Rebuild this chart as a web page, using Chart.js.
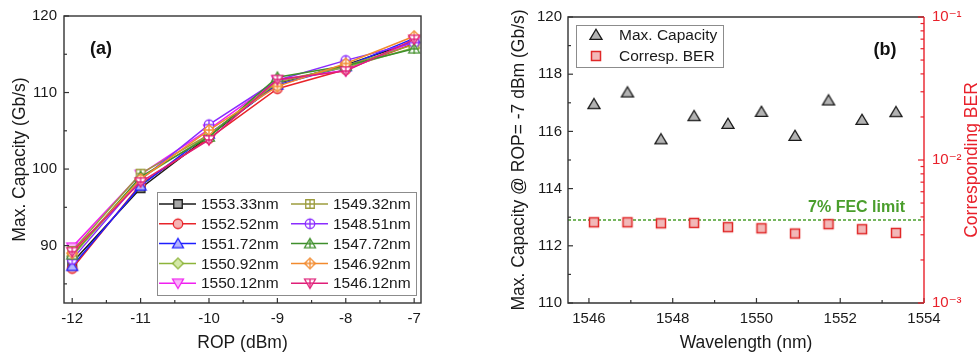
<!DOCTYPE html>
<html><head><meta charset="utf-8">
<script src="https://cdn.jsdelivr.net/npm/chart.js@4.4.0/dist/chart.umd.min.js"></script>
<style>
html,body{margin:0;padding:0;background:#fff;}
#wrap{position:relative;width:980px;height:358px;overflow:hidden;}
.box{position:absolute;top:0;width:490px;height:358px;}
</style></head><body>
<div id="wrap">
<div class="box" style="left:0"><canvas id="ca" width="490" height="358"></canvas></div>
<div class="box" style="left:490px"><canvas id="cb" width="490" height="358"></canvas></div>
</div>
<script>
// ---------- data: panel (a) ----------
const ropValues = [-12, -11, -10, -9, -8, -7];
const seriesNames = ['1553.33nm','1552.52nm','1551.72nm','1550.92nm','1550.12nm',
                     '1549.32nm','1548.51nm','1547.72nm','1546.92nm','1546.12nm'];
const cap_1553_33 = [87.8, 97.5, 104.3, 111.2, 113.6, 116.67];
const cap_1552_52 = [87.0, 98.0, 104.0, 110.5, 113.0, 116.40];
const cap_1551_72 = [87.3, 97.8, 104.6, 111.0, 113.4, 117.08];
const cap_1550_92 = [88.6, 98.8, 104.4, 111.5, 113.3, 115.84];
const cap_1550_12 = [89.8, 99.3, 105.2, 111.6, 112.9, 116.68];
const cap_1549_32 = [89.3, 99.4, 104.5, 111.3, 113.5, 116.26];
const cap_1548_51 = [88.2, 98.6, 105.8, 111.6, 114.2, 116.53];
const cap_1547_72 = [88.8, 99.0, 104.2, 112.0, 113.5, 115.72];
const cap_1546_92 = [89.0, 98.7, 105.1, 110.8, 113.8, 117.36];
const cap_1546_12 = [89.2, 98.3, 103.8, 111.7, 112.8, 116.95];
const seriesData = [cap_1553_33, cap_1552_52, cap_1551_72, cap_1550_92, cap_1550_12,
                    cap_1549_32, cap_1548_51, cap_1547_72, cap_1546_92, cap_1546_12];
const aXTicks = [-12, -11, -10, -9, -8, -7];
const aYTicks = [90, 100, 110, 120];

// ---------- data: panel (b) ----------
const wavelengths = [1546.12, 1546.92, 1547.72, 1548.51, 1549.32, 1550.12, 1550.92, 1551.72, 1552.52, 1553.33];
const maxCapacity = [116.95, 117.36, 115.72, 116.53, 116.26, 116.68, 115.84, 117.08, 116.40, 116.67];
const correspBER = [3.67e-3, 3.67e-3, 3.61e-3, 3.63e-3, 3.39e-3, 3.33e-3, 3.06e-3, 3.56e-3, 3.28e-3, 3.09e-3];
const fecLimit = 3.8e-3;
const bXTicks = [1546, 1548, 1550, 1552, 1554];
const bYTicks = [110, 112, 114, 116, 118, 120];
const berTicks = [1e-3, 1e-2, 1e-1];
const berTickLabels = ['10\u207B\u00B3', '10\u207B\u00B2', '10\u207B\u00B9'];

// ---------- styles ----------
const FONT = "'Liberation Sans', Arial, 'DejaVu Sans', sans-serif";
Chart.defaults.font.family = FONT;
Chart.defaults.color = '#1a1a1a';
const seriesStyle = [
  {c:'#1a1a1a', f:'#a8a8a8', s:'square'},
  {c:'#e8242a', f:'#f4b4b4', s:'circle'},
  {c:'#1e1eff', f:'#b4b4ff', s:'triangle'},
  {c:'#8db43a', f:'#d4e8a8', s:'diamond'},
  {c:'#f020f0', f:'#f9b4f9', s:'down'},
  {c:'#9c9c3c', f:'#ffffff', s:'square', p:true},
  {c:'#8a2cff', f:'#ffffff', s:'circle', p:true},
  {c:'#3f8f2c', f:'#ffffff', s:'triangle', p:true},
  {c:'#f28a2e', f:'#ffffff', s:'diamond', p:true},
  {c:'#e01e78', f:'#ffffff', s:'down', p:true}
];

function makeMarker(shape, stroke, fill, plus, size, lw){
  const S = 20, c = document.createElement('canvas');
  c.width = S; c.height = S;
  const g = c.getContext('2d');
  g.translate(S/2, S/2);
  const r = size/2;
  const path = () => {
    g.beginPath();
    if (shape === 'square') g.rect(-r, -r, 2*r, 2*r);
    else if (shape === 'circle') g.arc(0, 0, r, 0, Math.PI*2);
    else if (shape === 'triangle') { g.moveTo(0, -r*1.1); g.lineTo(r*1.15, r*0.85); g.lineTo(-r*1.15, r*0.85); g.closePath(); }
    else if (shape === 'down') { g.moveTo(0, r*1.1); g.lineTo(r*1.15, -r*0.85); g.lineTo(-r*1.15, -r*0.85); g.closePath(); }
    else if (shape === 'diamond') { g.moveTo(0, -r*1.2); g.lineTo(r*1.2, 0); g.lineTo(0, r*1.2); g.lineTo(-r*1.2, 0); g.closePath(); }
  };
  path(); g.fillStyle = fill; g.fill();
  if (plus) {
    g.save(); path(); g.clip();
    g.beginPath(); g.moveTo(0, -S); g.lineTo(0, S); g.moveTo(-S, 0); g.lineTo(S, 0);
    g.strokeStyle = stroke; g.lineWidth = lw; g.stroke(); g.restore();
  }
  path(); g.strokeStyle = stroke; g.lineWidth = lw; g.stroke();
  return c;
}
const sizeOf = {square: 8.5, circle: 9.5, triangle: 9.5, down: 9.5, diamond: 9};
const markers = seriesStyle.map(st => makeMarker(st.s, st.c, st.f, st.p, sizeOf[st.s], 1.3));
const triMarker = makeMarker('triangle', '#1a1a1a', '#b3b3b3', false, 10.5, 1.3);
const sqMarker = makeMarker('square', '#e02828', '#f2b8b8', false, 9, 1.5);

function minorValues(ticks, min, max){
  const step = ticks[1] - ticks[0], out = [];
  for (let v = ticks[0] - step/2; v <= max + 1e-9; v += step/2) {
    if (v < min - 1e-9) continue;
    if (ticks.some(t => Math.abs(t - v) < 1e-9)) continue;
    out.push(v);
  }
  return out;
}
function line(ctx, x1, y1, x2, y2){ ctx.beginPath(); ctx.moveTo(x1, y1); ctx.lineTo(x2, y2); ctx.stroke(); }
const setTicks = arr => s => { s.ticks = arr.map(v => ({value: v})); };

// ---------- panel (a) ----------
const frameA = {
  id: 'frameA',
  afterDraw(chart){
    const {ctx, chartArea: a, scales} = chart;
    ctx.save();
    ctx.strokeStyle = '#333'; ctx.lineWidth = 1.4;
    ctx.strokeRect(a.left, a.top, a.right - a.left, a.bottom - a.top);
    ctx.lineWidth = 1.2;
    const xs = scales.x, ys = scales.y;
    aXTicks.forEach(v => { const p = xs.getPixelForValue(v); line(ctx, p, a.bottom, p, a.bottom - 5); });
    minorValues(aXTicks, xs.min, xs.max).forEach(v => { const p = xs.getPixelForValue(v); line(ctx, p, a.bottom, p, a.bottom - 3); });
    aYTicks.forEach(v => { const p = ys.getPixelForValue(v); line(ctx, a.left, p, a.left + 5, p); });
    minorValues(aYTicks, ys.min, ys.max).forEach(v => { const p = ys.getPixelForValue(v); line(ctx, a.left, p, a.left + 3, p); });
    // panel label
    ctx.fillStyle = '#111'; ctx.font = 'bold 18px ' + FONT; ctx.textAlign = 'center'; ctx.textBaseline = 'middle';
    ctx.fillText('(a)', a.left + 37, a.top + 33);
    // legend
    const L = a.right - 5 - 259, T = a.bottom - 8 - 103;
    ctx.fillStyle = '#fff'; ctx.fillRect(L, T, 259, 103);
    ctx.strokeStyle = '#8c8c8c'; ctx.lineWidth = 1; ctx.strokeRect(L + 0.5, T + 0.5, 259, 103);
    ctx.font = '15.5px ' + FONT; ctx.textAlign = 'left';
    seriesNames.forEach((name, i) => {
      const col = i < 5 ? 0 : 1, row = i % 5;
      const x0 = L + 2 + col * 132, y = T + 12 + row * 19.8;
      ctx.strokeStyle = seriesStyle[i].c; ctx.lineWidth = 1.5;
      line(ctx, x0, y, x0 + 37, y);
      const m = markers[i];
      ctx.drawImage(m, x0 + 19 - m.width/2, y - m.height/2);
      ctx.fillStyle = '#1a1a1a';
      ctx.fillText(name, x0 + 42, y + 1);
    });
    ctx.restore();
  }
};

new Chart(document.getElementById('ca'), {
  type: 'line',
  data: {
    datasets: seriesNames.map((n, i) => ({
      label: n,
      data: ropValues.map((x, k) => ({x, y: seriesData[i][k]})),
      borderColor: seriesStyle[i].c,
      backgroundColor: seriesStyle[i].c,
      borderWidth: 1.5,
      pointStyle: markers[i],
      pointRadius: 5,
      tension: 0,
      order: 9 - i
    }))
  },
  options: {
    responsive: false, animation: false, events: [],
    layout: {padding: {top: 15, right: 69, left: 0, bottom: 0}},
    plugins: {legend: {display: false}, tooltip: {enabled: false}},
    scales: {
      x: {
        type: 'linear', min: -12.12, max: -6.9,
        afterBuildTicks: setTicks(aXTicks),
        afterFit: s => { s.height = 55; },
        grid: {display: false, drawTicks: false}, border: {display: false},
        ticks: {autoSkip: false, maxRotation: 0, padding: 7, font: {size: 15}, color: '#1a1a1a'},
        title: {display: true, text: 'ROP (dBm)', font: {size: 17.5, lineHeight: 1.2}, padding: {top: 0, bottom: 4.5}, color: '#1a1a1a'}
      },
      y: {
        type: 'linear', min: 82.5, max: 120,
        afterBuildTicks: setTicks(aYTicks),
        afterFit: s => { s.width = 64; },
        grid: {display: false, drawTicks: false}, border: {display: false},
        ticks: {autoSkip: false, padding: 7, font: {size: 15}, color: '#1a1a1a'},
        title: {display: true, text: 'Max. Capacity (Gb/s)', font: {size: 17.5, lineHeight: 1.2}, padding: {top: 9.5, bottom: 0}, color: '#1a1a1a'}
      }
    }
  },
  plugins: [frameA]
});

// ---------- panel (b) ----------
const frameB = {
  id: 'frameB',
  afterDraw(chart){
    const {ctx, chartArea: a, scales} = chart;
    const xs = scales.x, ys = scales.y, y2 = scales.y2;
    ctx.save();
    ctx.strokeStyle = '#333'; ctx.lineWidth = 1.4;
    ctx.beginPath(); ctx.moveTo(a.right, a.top); ctx.lineTo(a.left, a.top); ctx.lineTo(a.left, a.bottom); ctx.lineTo(a.right, a.bottom); ctx.stroke();
    ctx.lineWidth = 1.2;
    bXTicks.forEach(v => { const p = xs.getPixelForValue(v); line(ctx, p, a.bottom, p, a.bottom - 5); });
    minorValues(bXTicks, xs.min, xs.max).forEach(v => { const p = xs.getPixelForValue(v); line(ctx, p, a.bottom, p, a.bottom - 3); });
    bYTicks.forEach(v => { const p = ys.getPixelForValue(v); line(ctx, a.left, p, a.left + 5, p); });
    minorValues(bYTicks, ys.min, ys.max).forEach(v => { const p = ys.getPixelForValue(v); line(ctx, a.left, p, a.left + 3, p); });
    // right log axis
    ctx.strokeStyle = '#e8202a'; ctx.lineWidth = 1.4;
    line(ctx, a.right, a.top, a.right, a.bottom);
    ctx.lineWidth = 1.2;
    berTicks.forEach(v => { const p = y2.getPixelForValue(v); line(ctx, a.right, p, a.right - 6, p); });
    for (let d = 0; d < berTicks.length - 1; d++) {
      for (let k = 2; k <= 9; k++) { const p = y2.getPixelForValue(berTicks[d] * k); line(ctx, a.right, p, a.right - 3.5, p); }
    }
    // right axis title (reads bottom to top)
    ctx.save();
    ctx.translate(482, (a.top + a.bottom) / 2);
    ctx.rotate(-Math.PI / 2);
    ctx.fillStyle = '#e8202a'; ctx.font = '17.5px ' + FONT; ctx.textAlign = 'center'; ctx.textBaseline = 'middle';
    ctx.fillText('Corresponding BER', 0, 0);
    ctx.restore();
    // FEC label
    ctx.fillStyle = '#4a9e2c'; ctx.font = 'bold 16px ' + FONT; ctx.textAlign = 'right'; ctx.textBaseline = 'middle';
    ctx.fillText('7% FEC limit', a.right - 19, y2.getPixelForValue(fecLimit) - 12.5);
    // panel label
    ctx.fillStyle = '#111'; ctx.font = 'bold 18px ' + FONT; ctx.textAlign = 'center';
    ctx.fillText('(b)', a.right - 39, a.top + 33);
    // legend
    const L = a.left + 8, T = a.top + 8;
    ctx.fillStyle = '#fff'; ctx.fillRect(L, T, 147, 42);
    ctx.strokeStyle = '#8c8c8c'; ctx.lineWidth = 1; ctx.strokeRect(L + 0.5, T + 0.5, 147, 42);
    ctx.drawImage(triMarker, L + 20 - triMarker.width/2, T + 10 - triMarker.height/2);
    ctx.drawImage(sqMarker, L + 20 - sqMarker.width/2, T + 31 - sqMarker.height/2);
    ctx.fillStyle = '#1a1a1a'; ctx.font = '15.5px ' + FONT; ctx.textAlign = 'left';
    ctx.fillText('Max. Capacity', L + 43, T + 11);
    ctx.fillText('Corresp. BER', L + 43, T + 32);
    ctx.restore();
  }
};

new Chart(document.getElementById('cb'), {
  type: 'scatter',
  data: {
    datasets: [
      {label: 'Max. Capacity', data: wavelengths.map((x, k) => ({x, y: maxCapacity[k]})), yAxisID: 'y',
       pointStyle: triMarker, pointRadius: 5, showLine: false},
      {label: 'Corresp. BER', data: wavelengths.map((x, k) => ({x, y: correspBER[k]})), yAxisID: 'y2',
       pointStyle: sqMarker, pointRadius: 5, showLine: false},
      {label: '7% FEC limit', data: [{x: 1545.5, y: fecLimit}, {x: 1554, y: fecLimit}], yAxisID: 'y2',
       showLine: true, borderColor: '#4a9e2c', borderWidth: 1.5, borderDash: [3, 2], pointRadius: 0}
    ]
  },
  options: {
    responsive: false, animation: false, events: [],
    layout: {padding: {top: 15, right: 0, left: 0, bottom: 0}},
    plugins: {legend: {display: false}, tooltip: {enabled: false}},
    scales: {
      x: {
        type: 'linear', min: 1545.5, max: 1554,
        afterBuildTicks: setTicks(bXTicks),
        afterFit: s => { s.height = 55; },
        grid: {display: false, drawTicks: false}, border: {display: false},
        ticks: {autoSkip: false, maxRotation: 0, padding: 7, font: {size: 15}, color: '#1a1a1a', callback: v => String(v)},
        title: {display: true, text: 'Wavelength (nm)', font: {size: 17.5, lineHeight: 1.2}, padding: {top: 0, bottom: 4.5}, color: '#1a1a1a'}
      },
      y: {
        type: 'linear', position: 'left', min: 110, max: 120,
        afterBuildTicks: setTicks(bYTicks),
        afterFit: s => { s.width = 78; },
        grid: {display: false, drawTicks: false}, border: {display: false},
        ticks: {autoSkip: false, padding: 6, font: {size: 15}, color: '#1a1a1a'},
        title: {display: true, text: 'Max. Capacity @ ROP= -7 dBm (Gb/s)', font: {size: 17.5, lineHeight: 1.2}, padding: {top: 18.5, bottom: 0}, color: '#1a1a1a'}
      },
      y2: {
        type: 'logarithmic', position: 'right', min: 1e-3, max: 1e-1,
        afterBuildTicks: setTicks(berTicks),
        afterFit: s => { s.width = 56; },
        grid: {display: false, drawTicks: false}, border: {display: false},
        ticks: {autoSkip: false, padding: 8, font: {size: 15}, color: '#e8202a',
                callback: (v, i) => berTickLabels[i]},
        title: {display: false}
      }
    }
  },
  plugins: [frameB]
});
</script>
</body></html>
